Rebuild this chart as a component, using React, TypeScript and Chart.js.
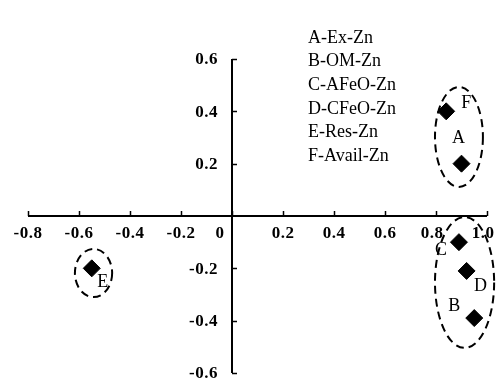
import React, { useEffect, useRef } from "react";
import { Chart, registerables } from "chart.js";

Chart.register(...registerables);

const pointNames = ["A", "B", "C", "D", "E", "F"];
const xValues = [0.9, 0.95, 0.89, 0.92, -0.55, 0.84];
const yValues = [0.2, -0.39, -0.1, -0.21, -0.2, 0.4];

const legendLabels = ["A-Ex-Zn", "B-OM-Zn", "C-AFeO-Zn", "D-CFeO-Zn", "E-Res-Zn", "F-Avail-Zn"];

const xTicks = [-0.8, -0.6, -0.4, -0.2, 0, 0.2, 0.4, 0.6, 0.8, 1.0];
const xTickLabels = ["-0.8", "-0.6", "-0.4", "-0.2", "0", "0.2", "0.4", "0.6", "0.8", "1.0"];
const yTicks = [-0.6, -0.4, -0.2, 0.2, 0.4, 0.6];
const yTickLabels = ["-0.6", "-0.4", "-0.2", "0.2", "0.4", "0.6"];

// group ellipses (data units)
const groupCenterX = [0.89, 0.912, -0.543];
const groupCenterY = [0.302, -0.254, -0.218];
const groupRadiusX = [0.094, 0.116, 0.073];
const groupRadiusY = [0.191, 0.25, 0.092];

// pixel offsets of point letters from their markers
const labelOffsets: Record<string, [number, number]> = {
  A: [-3, -25],
  B: [-20, -12],
  C: [-18, 8],
  D: [14, 15],
  E: [11, 14],
  F: [20, -8],
};

const SERIF = '"Liberation Serif", "Times New Roman", serif';

const overlayPlugin = {
  id: "overlay",
  beforeDatasetsDraw(chart: any) {
    const ctx = chart.ctx;
    const xs = chart.scales.x;
    const ys = chart.scales.y;
    const x0 = xs.getPixelForValue(0);
    const y0 = ys.getPixelForValue(0);
    ctx.save();
    ctx.strokeStyle = "#000";
    ctx.fillStyle = "#000";
    ctx.lineWidth = 2;
    // x axis
    ctx.beginPath();
    ctx.moveTo(xs.getPixelForValue(xTicks[0]), y0);
    ctx.lineTo(xs.getPixelForValue(xTicks[xTicks.length - 1]), y0);
    ctx.stroke();
    // y axis
    ctx.beginPath();
    ctx.moveTo(x0, ys.getPixelForValue(yTicks[yTicks.length - 1]));
    ctx.lineTo(x0, ys.getPixelForValue(yTicks[0]));
    ctx.stroke();
    // ticks
    ctx.lineWidth = 1.5;
    xTicks.forEach((v) => {
      const px = Math.round(xs.getPixelForValue(v)) + 0.5;
      ctx.beginPath();
      ctx.moveTo(px, y0);
      ctx.lineTo(px, y0 - 5);
      ctx.stroke();
    });
    yTicks.forEach((v) => {
      const py = Math.round(ys.getPixelForValue(v)) + 0.5;
      ctx.beginPath();
      ctx.moveTo(x0, py);
      ctx.lineTo(x0 + 5, py);
      ctx.stroke();
    });
    // tick labels
    ctx.font = "bold 17px " + SERIF;
    try { (ctx as any).letterSpacing = "0.5px"; } catch (e) {}
    ctx.textBaseline = "middle";
    ctx.textAlign = "center";
    xTicks.forEach((v, i) => {
      let px = xs.getPixelForValue(v);
      if (v === 0) px -= 12;
      if (i === xTicks.length - 1) px -= 4;
      if (i === xTicks.length - 2) px -= 4;
      ctx.fillText(xTickLabels[i], px, y0 + 18);
    });
    ctx.textAlign = "right";
    yTicks.forEach((v, i) => {
      ctx.fillText(yTickLabels[i], x0 - 14, ys.getPixelForValue(v) + 1);
    });
    try { (ctx as any).letterSpacing = "0px"; } catch (e) {}
    ctx.restore();
  },
  afterDraw(chart: any) {
    const ctx = chart.ctx;
    const xs = chart.scales.x;
    const ys = chart.scales.y;
    ctx.save();
    // ellipses
    ctx.strokeStyle = "#000";
    ctx.lineWidth = 2;
    ctx.setLineDash([8, 5]);
    groupCenterX.forEach((cx, i) => {
      const px = xs.getPixelForValue(cx);
      const py = ys.getPixelForValue(groupCenterY[i]);
      const rx = Math.abs(xs.getPixelForValue(cx + groupRadiusX[i]) - px);
      const ry = Math.abs(ys.getPixelForValue(groupCenterY[i] + groupRadiusY[i]) - py);
      ctx.beginPath();
      ctx.ellipse(px, py, rx, ry, 0, 0, Math.PI * 2);
      ctx.stroke();
    });
    ctx.setLineDash([]);
    // point letters
    ctx.fillStyle = "#000";
    ctx.font = "18px " + SERIF;
    ctx.textAlign = "center";
    ctx.textBaseline = "middle";
    pointNames.forEach((n, i) => {
      const px = xs.getPixelForValue(xValues[i]);
      const py = ys.getPixelForValue(yValues[i]);
      const off = labelOffsets[n];
      ctx.fillText(n, px + off[0], py + off[1]);
    });
    // legend text
    ctx.textAlign = "left";
    ctx.font = "18px " + SERIF;
    legendLabels.forEach((t, i) => {
      ctx.fillText(t, 308, 38 + i * 23.6);
    });
    ctx.restore();
  },
};

export default function App() {
  const ref = useRef<HTMLCanvasElement>(null);
  useEffect(() => {
    if (!ref.current) return;
    const chart = new Chart(ref.current, {
      type: "scatter",
      data: {
        datasets: [
          {
            data: xValues.map((x, i) => ({ x, y: yValues[i] })),
            pointStyle: "rectRot",
            pointRadius: 8.5,
            pointHoverRadius: 8.5,
            backgroundColor: "#000",
            borderColor: "#000",
            borderWidth: 1,
            clip: false as any,
          },
        ],
      },
      options: {
        animation: false,
        responsive: false,
        events: [],
        layout: { padding: { left: 28, right: 11, top: 59, bottom: 10 } },
        plugins: { legend: { display: false }, tooltip: { enabled: false } },
        scales: {
          x: { type: "linear", min: -0.8, max: 1.0, display: false },
          y: { type: "linear", min: -0.6, max: 0.6, display: false },
        },
      },
      plugins: [overlayPlugin],
    });
    return () => chart.destroy();
  }, []);
  return (
    <div style={{ position: "absolute", left: 0, top: 0, width: 498, height: 383, background: "#fff" }}>
      <canvas ref={ref} width={498} height={383} style={{ width: 498, height: 383 }} />
    </div>
  );
}
